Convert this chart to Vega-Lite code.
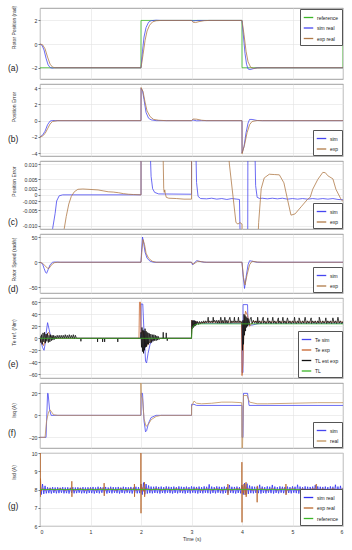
{
"$schema": "https://vega.github.io/schema/vega-lite/v6.json",
"padding": {"left": 7, "top": 4, "right": 8, "bottom": 4},
"background": "white",
"spacing": 5,
"bounds": "flush",
"resolve": {"scale": {"color": "independent", "x": "independent", "y": "independent"}, "legend": {"color": "independent"}},
"config": {
 "font": "Liberation Sans",
 "view": {"stroke": "#888", "strokeWidth": 0.8},
 "axis": {"labelFontSize": 5.2, "titleFontSize": 5, "titleFontWeight": "normal", "labelColor": "#333", "titleColor": "#333", "gridColor": "#e3e3e3", "gridWidth": 0.6, "domain": false, "tickColor": "#777", "tickSize": 2, "labelPadding": 1},
 "legend": {"labelFontSize": 5, "labelColor": "#222", "symbolType": "stroke", "symbolSize": 90, "symbolStrokeWidth": 1.3, "strokeColor": "#555", "fillColor": "#fff", "padding": 3, "rowPadding": 1.5, "offset": 1, "labelOffset": 3},
 "title": {"fontSize": 8.5, "fontWeight": "normal", "color": "#222", "anchor": "start", "frame": "group", "offset": 0, "dx": -32, "baseline": "middle"}
},
"datasets": {
"a": [
{"s":"reference","t":0,"v":-2},{"s":"reference","t":1.999,"v":-2},{"s":"reference","t":2,"v":2},{"s":"reference","t":3.999,"v":2},{"s":"reference","t":4,"v":-2},{"s":"reference","t":5.999,"v":-2},{"s":"reference","t":6,"v":2},
{"s":"sim real","t":0,"v":0},{"s":"sim real","t":0.04,"v":-0.1},{"s":"sim real","t":0.08,"v":-0.5},{"s":"sim real","t":0.12,"v":-1.2},{"s":"sim real","t":0.16,"v":-1.75},{"s":"sim real","t":0.2,"v":-1.98},{"s":"sim real","t":0.24,"v":-2.03},{"s":"sim real","t":0.3,"v":-2},{"s":"sim real","t":2,"v":-2},{"s":"sim real","t":2.03,"v":-0.6},{"s":"sim real","t":2.06,"v":0.6},{"s":"sim real","t":2.1,"v":1.4},{"s":"sim real","t":2.15,"v":1.85},{"s":"sim real","t":2.2,"v":1.98},{"s":"sim real","t":2.3,"v":2.02},{"s":"sim real","t":2.4,"v":2},{"s":"sim real","t":3,"v":2},{"s":"sim real","t":3.04,"v":1.96},{"s":"sim real","t":3.12,"v":2},{"s":"sim real","t":4,"v":2},{"s":"sim real","t":4.03,"v":0.6},{"s":"sim real","t":4.06,"v":-0.8},{"s":"sim real","t":4.09,"v":-1.7},{"s":"sim real","t":4.12,"v":-2.1},{"s":"sim real","t":4.16,"v":-2.15},{"s":"sim real","t":4.22,"v":-2.08},{"s":"sim real","t":4.3,"v":-2},{"s":"sim real","t":6,"v":-2},
{"s":"exp real","t":0,"v":0},{"s":"exp real","t":0.05,"v":-0.05},{"s":"exp real","t":0.1,"v":-0.4},{"s":"exp real","t":0.15,"v":-1.1},{"s":"exp real","t":0.2,"v":-1.7},{"s":"exp real","t":0.25,"v":-1.95},{"s":"exp real","t":0.3,"v":-2},{"s":"exp real","t":2,"v":-2},{"s":"exp real","t":2.04,"v":-0.9},{"s":"exp real","t":2.08,"v":0.3},{"s":"exp real","t":2.12,"v":1.1},{"s":"exp real","t":2.17,"v":1.6},{"s":"exp real","t":2.23,"v":1.88},{"s":"exp real","t":2.3,"v":1.97},{"s":"exp real","t":2.4,"v":2},{"s":"exp real","t":3,"v":2},{"s":"exp real","t":3.03,"v":1.85},{"s":"exp real","t":3.08,"v":1.82},{"s":"exp real","t":3.15,"v":1.9},{"s":"exp real","t":3.25,"v":1.98},{"s":"exp real","t":3.35,"v":2},{"s":"exp real","t":4,"v":2},{"s":"exp real","t":4.04,"v":0.8},{"s":"exp real","t":4.08,"v":-0.6},{"s":"exp real","t":4.12,"v":-1.5},{"s":"exp real","t":4.17,"v":-1.95},{"s":"exp real","t":4.23,"v":-2.05},{"s":"exp real","t":4.3,"v":-2.02},{"s":"exp real","t":4.4,"v":-2},{"s":"exp real","t":6,"v":-2}
],
"b": [
{"s":"sim","t":0,"v":-2},{"s":"sim","t":0.05,"v":-1.8},{"s":"sim","t":0.1,"v":-1.3},{"s":"sim","t":0.15,"v":-0.5},{"s":"sim","t":0.2,"v":-0.05},{"s":"sim","t":0.25,"v":0.02},{"s":"sim","t":0.3,"v":0},{"s":"sim","t":2,"v":0},{"s":"sim","t":2.001,"v":4},{"s":"sim","t":2.03,"v":3.7},{"s":"sim","t":2.06,"v":2.6},{"s":"sim","t":2.1,"v":1},{"s":"sim","t":2.15,"v":0.3},{"s":"sim","t":2.2,"v":0.1},{"s":"sim","t":2.3,"v":0},{"s":"sim","t":3,"v":0},{"s":"sim","t":3.03,"v":0.08},{"s":"sim","t":3.1,"v":-0.02},{"s":"sim","t":3.2,"v":0},{"s":"sim","t":4,"v":0},{"s":"sim","t":4.001,"v":-4},{"s":"sim","t":4.04,"v":-3.2},{"s":"sim","t":4.08,"v":-1.5},{"s":"sim","t":4.12,"v":-0.3},{"s":"sim","t":4.15,"v":0.15},{"s":"sim","t":4.2,"v":0.15},{"s":"sim","t":4.3,"v":0.02},{"s":"sim","t":4.4,"v":0},{"s":"sim","t":6,"v":0},
{"s":"exp","t":0,"v":-2},{"s":"exp","t":0.05,"v":-1.9},{"s":"exp","t":0.1,"v":-1.6},{"s":"exp","t":0.15,"v":-1},{"s":"exp","t":0.2,"v":-0.4},{"s":"exp","t":0.25,"v":-0.1},{"s":"exp","t":0.35,"v":0},{"s":"exp","t":2,"v":0},{"s":"exp","t":2.001,"v":4.1},{"s":"exp","t":2.04,"v":3.6},{"s":"exp","t":2.08,"v":2.3},{"s":"exp","t":2.12,"v":1.2},{"s":"exp","t":2.18,"v":0.5},{"s":"exp","t":2.25,"v":0.15},{"s":"exp","t":2.35,"v":0.05},{"s":"exp","t":2.5,"v":0},{"s":"exp","t":3,"v":0},{"s":"exp","t":3.03,"v":0.2},{"s":"exp","t":3.1,"v":0.18},{"s":"exp","t":3.2,"v":0.05},{"s":"exp","t":3.3,"v":0},{"s":"exp","t":4,"v":0},{"s":"exp","t":4.001,"v":-4.1},{"s":"exp","t":4.05,"v":-3},{"s":"exp","t":4.1,"v":-1.5},{"s":"exp","t":4.15,"v":-0.5},{"s":"exp","t":4.2,"v":-0.1},{"s":"exp","t":4.3,"v":0.02},{"s":"exp","t":4.4,"v":0},{"s":"exp","t":6,"v":0}
],
"c": [
{"s":"sim","t":0,"v":-0.1},{"s":"sim","t":0.2,"v":-0.05},{"s":"sim","t":0.25,"v":-0.011},{"s":"sim","t":0.3,"v":-0.006},{"s":"sim","t":0.33,"v":-0.002},{"s":"sim","t":0.38,"v":-0.0003},{"s":"sim","t":0.45,"v":0},{"s":"sim","t":2,"v":0},{"s":"sim","t":2.001,"v":0.1},{"s":"sim","t":2.17,"v":0.02},{"s":"sim","t":2.2,"v":0.006},{"s":"sim","t":2.23,"v":0.002},{"s":"sim","t":2.27,"v":0.0008},{"s":"sim","t":2.35,"v":0.0003},{"s":"sim","t":3,"v":0.0002},{"s":"sim","t":3.001,"v":0.05},{"s":"sim","t":3.08,"v":0.02},{"s":"sim","t":3.1,"v":0.004},{"s":"sim","t":3.13,"v":-0.0005},{"s":"sim","t":3.18,"v":-0.0012},{"s":"sim","t":3.3,"v":-0.0013},{"s":"sim","t":3.4,"v":-0.0011},{"s":"sim","t":3.5,"v":-0.0014},{"s":"sim","t":3.6,"v":-0.0012},{"s":"sim","t":3.7,"v":-0.0015},{"s":"sim","t":3.8,"v":-0.0012},{"s":"sim","t":3.9,"v":-0.0014},{"s":"sim","t":3.95,"v":-0.0015},{"s":"sim","t":3.97,"v":-0.02},{"s":"sim","t":4,"v":-0.1},{"s":"sim","t":4.11,"v":-0.05},{"s":"sim","t":4.12,"v":0.05},{"s":"sim","t":4.25,"v":0.02},{"s":"sim","t":4.27,"v":0.003},{"s":"sim","t":4.3,"v":-0.0008},{"s":"sim","t":4.35,"v":-0.0012},{"s":"sim","t":4.4,"v":-0.0011},{"s":"sim","t":4.5,"v":-0.0013},{"s":"sim","t":4.6,"v":-0.0011},{"s":"sim","t":4.7,"v":-0.0013},{"s":"sim","t":4.8,"v":-0.0011},{"s":"sim","t":4.9,"v":-0.0014},{"s":"sim","t":5,"v":-0.0012},{"s":"sim","t":5.1,"v":-0.0014},{"s":"sim","t":5.2,"v":-0.0012},{"s":"sim","t":5.3,"v":-0.0014},{"s":"sim","t":5.4,"v":-0.0012},{"s":"sim","t":5.5,"v":-0.0014},{"s":"sim","t":5.6,"v":-0.0012},{"s":"sim","t":5.7,"v":-0.0014},{"s":"sim","t":5.8,"v":-0.0012},{"s":"sim","t":5.9,"v":-0.0015},{"s":"sim","t":6,"v":-0.0016},
{"s":"exp","t":0,"v":-0.5},{"s":"exp","t":0.45,"v":-0.02},{"s":"exp","t":0.48,"v":-0.011},{"s":"exp","t":0.52,"v":-0.007},{"s":"exp","t":0.57,"v":-0.003},{"s":"exp","t":0.62,"v":-0.0005},{"s":"exp","t":0.68,"v":0.001},{"s":"exp","t":0.75,"v":0.0018},{"s":"exp","t":0.85,"v":0.0019},{"s":"exp","t":0.95,"v":0.0018},{"s":"exp","t":1.05,"v":0.0017},{"s":"exp","t":1.15,"v":0.0016},{"s":"exp","t":1.25,"v":0.0013},{"s":"exp","t":1.35,"v":0.001},{"s":"exp","t":1.45,"v":0.0009},{"s":"exp","t":1.55,"v":0.0007},{"s":"exp","t":1.65,"v":0.0004},{"s":"exp","t":1.75,"v":0.0002},{"s":"exp","t":1.85,"v":0.0001},{"s":"exp","t":2,"v":0},{"s":"exp","t":2.001,"v":0.2},{"s":"exp","t":2.43,"v":0.02},{"s":"exp","t":2.45,"v":0.002},{"s":"exp","t":2.46,"v":0.0008},{"s":"exp","t":2.47,"v":0.0016},{"s":"exp","t":2.48,"v":0.0005},{"s":"exp","t":2.5,"v":-0.0008},{"s":"exp","t":2.55,"v":-0.0011},{"s":"exp","t":2.7,"v":-0.0012},{"s":"exp","t":2.85,"v":-0.0014},{"s":"exp","t":3,"v":-0.0014},{"s":"exp","t":3.001,"v":0.1},{"s":"exp","t":3.7,"v":0.02},{"s":"exp","t":3.75,"v":0.01},{"s":"exp","t":3.88,"v":-0.009},{"s":"exp","t":3.92,"v":-0.0095},{"s":"exp","t":3.96,"v":-0.009},{"s":"exp","t":4,"v":-0.0095},{"s":"exp","t":4.01,"v":-0.2},{"s":"exp","t":4.3,"v":-0.02},{"s":"exp","t":4.33,"v":-0.009},{"s":"exp","t":4.38,"v":0.002},{"s":"exp","t":4.44,"v":0.0055},{"s":"exp","t":4.54,"v":0.0067},{"s":"exp","t":4.64,"v":0.0066},{"s":"exp","t":4.74,"v":0.0065},{"s":"exp","t":4.83,"v":0.0039},{"s":"exp","t":4.9,"v":-0.0014},{"s":"exp","t":4.97,"v":-0.0066},{"s":"exp","t":5.05,"v":-0.0062},{"s":"exp","t":5.17,"v":-0.0039},{"s":"exp","t":5.3,"v":-0.0014},{"s":"exp","t":5.35,"v":-0.0008},{"s":"exp","t":5.4,"v":0.0018},{"s":"exp","t":5.5,"v":0.005},{"s":"exp","t":5.6,"v":0.0073},{"s":"exp","t":5.65,"v":0.0072},{"s":"exp","t":5.7,"v":0.0062},{"s":"exp","t":5.8,"v":0.0052},{"s":"exp","t":5.86,"v":0.0018},{"s":"exp","t":5.96,"v":-0.0014},{"s":"exp","t":6,"v":-0.0022}
],
"d": [
{"s":"sim","t":0,"v":0},{"s":"sim","t":0.05,"v":-3},{"s":"sim","t":0.08,"v":-12},{"s":"sim","t":0.11,"v":-20},{"s":"sim","t":0.13,"v":-22},{"s":"sim","t":0.16,"v":-15},{"s":"sim","t":0.2,"v":-5},{"s":"sim","t":0.25,"v":0},{"s":"sim","t":0.3,"v":0.5},{"s":"sim","t":0.4,"v":0},{"s":"sim","t":2,"v":0},{"s":"sim","t":2.01,"v":20},{"s":"sim","t":2.03,"v":50},{"s":"sim","t":2.05,"v":40},{"s":"sim","t":2.08,"v":20},{"s":"sim","t":2.12,"v":8},{"s":"sim","t":2.18,"v":2},{"s":"sim","t":2.25,"v":0},{"s":"sim","t":3,"v":0},{"s":"sim","t":3.02,"v":-5},{"s":"sim","t":3.05,"v":-2},{"s":"sim","t":3.1,"v":3},{"s":"sim","t":3.15,"v":2},{"s":"sim","t":3.25,"v":0},{"s":"sim","t":4,"v":0},{"s":"sim","t":4.02,"v":-25},{"s":"sim","t":4.05,"v":-52},{"s":"sim","t":4.08,"v":-30},{"s":"sim","t":4.12,"v":-5},{"s":"sim","t":4.15,"v":3},{"s":"sim","t":4.2,"v":2},{"s":"sim","t":4.3,"v":0},{"s":"sim","t":6,"v":0},
{"s":"exp","t":0,"v":0},{"s":"exp","t":0.05,"v":-2},{"s":"exp","t":0.1,"v":-7},{"s":"exp","t":0.15,"v":-12},{"s":"exp","t":0.18,"v":-12},{"s":"exp","t":0.22,"v":-6},{"s":"exp","t":0.28,"v":-1},{"s":"exp","t":0.35,"v":0},{"s":"exp","t":2,"v":0},{"s":"exp","t":2.02,"v":25},{"s":"exp","t":2.04,"v":45},{"s":"exp","t":2.07,"v":35},{"s":"exp","t":2.1,"v":18},{"s":"exp","t":2.15,"v":8},{"s":"exp","t":2.22,"v":2},{"s":"exp","t":2.3,"v":0},{"s":"exp","t":3,"v":0},{"s":"exp","t":3.03,"v":-4},{"s":"exp","t":3.08,"v":-1},{"s":"exp","t":3.12,"v":2},{"s":"exp","t":3.2,"v":1},{"s":"exp","t":3.3,"v":0},{"s":"exp","t":4,"v":0},{"s":"exp","t":4.03,"v":-30},{"s":"exp","t":4.06,"v":-45},{"s":"exp","t":4.1,"v":-25},{"s":"exp","t":4.15,"v":-5},{"s":"exp","t":4.2,"v":2},{"s":"exp","t":4.3,"v":0.5},{"s":"exp","t":4.4,"v":0},{"s":"exp","t":6,"v":0}
],
"e": [
{"s":"Te sim","t":0,"v":0},{"s":"Te sim","t":0.02,"v":-5},{"s":"Te sim","t":0.05,"v":-15},{"s":"Te sim","t":0.08,"v":-20},{"s":"Te sim","t":0.1,"v":-10},{"s":"Te sim","t":0.12,"v":8},{"s":"Te sim","t":0.15,"v":26},{"s":"Te sim","t":0.18,"v":15},{"s":"Te sim","t":0.21,"v":3},{"s":"Te sim","t":0.25,"v":0},{"s":"Te sim","t":2,"v":0},{"s":"Te sim","t":2.001,"v":57},{"s":"Te sim","t":2.035,"v":57},{"s":"Te sim","t":2.06,"v":10},{"s":"Te sim","t":2.09,"v":-38},{"s":"Te sim","t":2.11,"v":-41},{"s":"Te sim","t":2.14,"v":-25},{"s":"Te sim","t":2.18,"v":-10},{"s":"Te sim","t":2.24,"v":-2},{"s":"Te sim","t":2.3,"v":0},{"s":"Te sim","t":3,"v":0},{"s":"Te sim","t":3.001,"v":27},{"s":"Te sim","t":3.03,"v":29},{"s":"Te sim","t":3.08,"v":27},{"s":"Te sim","t":3.15,"v":25},{"s":"Te sim","t":3.999,"v":25},{"s":"Te sim","t":4,"v":-57},{"s":"Te sim","t":4.02,"v":-57},{"s":"Te sim","t":4.021,"v":56},{"s":"Te sim","t":4.11,"v":56},{"s":"Te sim","t":4.12,"v":22},{"s":"Te sim","t":4.2,"v":22},{"s":"Te sim","t":4.3,"v":24},{"s":"Te sim","t":4.4,"v":25},{"s":"Te sim","t":6,"v":25},
{"s":"Te exp","t":0,"v":0},{"s":"Te exp","t":0.03,"v":-6},{"s":"Te exp","t":0.07,"v":-12},{"s":"Te exp","t":0.1,"v":-4},{"s":"Te exp","t":0.13,"v":6},{"s":"Te exp","t":0.17,"v":10},{"s":"Te exp","t":0.21,"v":3},{"s":"Te exp","t":0.28,"v":0},{"s":"Te exp","t":1.96,"v":0},{"s":"Te exp","t":1.97,"v":60},{"s":"Te exp","t":1.99,"v":60},{"s":"Te exp","t":2,"v":8},{"s":"Te exp","t":2.04,"v":12},{"s":"Te exp","t":2.08,"v":-8},{"s":"Te exp","t":2.12,"v":-12},{"s":"Te exp","t":2.18,"v":-5},{"s":"Te exp","t":2.28,"v":0},{"s":"Te exp","t":3,"v":0},{"s":"Te exp","t":3.005,"v":30},{"s":"Te exp","t":3.04,"v":21},{"s":"Te exp","t":3.08,"v":28},{"s":"Te exp","t":3.15,"v":25},{"s":"Te exp","t":3.3,"v":27},{"s":"Te exp","t":3.99,"v":27},{"s":"Te exp","t":4,"v":-62},{"s":"Te exp","t":4.02,"v":-40},{"s":"Te exp","t":4.04,"v":25},{"s":"Te exp","t":4.07,"v":45},{"s":"Te exp","t":4.11,"v":38},{"s":"Te exp","t":4.15,"v":20},{"s":"Te exp","t":4.22,"v":28},{"s":"Te exp","t":4.4,"v":27},{"s":"Te exp","t":6,"v":27},
{"s":"TL est exp","t":0,"v":4},{"s":"TL est exp","t":0.015,"v":-7},{"s":"TL est exp","t":0.03,"v":6},{"s":"TL est exp","t":0.045,"v":-10},{"s":"TL est exp","t":0.06,"v":9},{"s":"TL est exp","t":0.075,"v":-6},{"s":"TL est exp","t":0.09,"v":10},{"s":"TL est exp","t":0.105,"v":-8},{"s":"TL est exp","t":0.12,"v":7},{"s":"TL est exp","t":0.135,"v":-5},{"s":"TL est exp","t":0.15,"v":8},{"s":"TL est exp","t":0.165,"v":-7},{"s":"TL est exp","t":0.18,"v":5},{"s":"TL est exp","t":0.195,"v":-6},{"s":"TL est exp","t":0.21,"v":6},{"s":"TL est exp","t":0.225,"v":-4},{"s":"TL est exp","t":0.24,"v":5},{"s":"TL est exp","t":0.255,"v":-3},{"s":"TL est exp","t":0.27,"v":5},{"s":"TL est exp","t":0.285,"v":-2},{"s":"TL est exp","t":0.3,"v":4},{"s":"TL est exp","t":0.32,"v":-1},{"s":"TL est exp","t":0.34,"v":5},{"s":"TL est exp","t":0.36,"v":0},{"s":"TL est exp","t":0.38,"v":5},{"s":"TL est exp","t":0.4,"v":0},{"s":"TL est exp","t":0.42,"v":5},{"s":"TL est exp","t":0.44,"v":0},{"s":"TL est exp","t":0.46,"v":5},{"s":"TL est exp","t":0.48,"v":0},{"s":"TL est exp","t":0.5,"v":6},{"s":"TL est exp","t":0.52,"v":0},{"s":"TL est exp","t":0.54,"v":5},{"s":"TL est exp","t":0.56,"v":0},{"s":"TL est exp","t":0.58,"v":6},{"s":"TL est exp","t":0.6,"v":0},{"s":"TL est exp","t":0.62,"v":5},{"s":"TL est exp","t":0.64,"v":0},{"s":"TL est exp","t":0.66,"v":6},{"s":"TL est exp","t":0.68,"v":-1},{"s":"TL est exp","t":0.7,"v":5},{"s":"TL est exp","t":0.72,"v":0},{"s":"TL est exp","t":0.808,"v":0},{"s":"TL est exp","t":0.81,"v":-5},{"s":"TL est exp","t":0.812,"v":0},{"s":"TL est exp","t":1.138,"v":0},{"s":"TL est exp","t":1.14,"v":-6},{"s":"TL est exp","t":1.142,"v":0},{"s":"TL est exp","t":1.238,"v":0},{"s":"TL est exp","t":1.24,"v":-6},{"s":"TL est exp","t":1.242,"v":0},{"s":"TL est exp","t":1.278,"v":0},{"s":"TL est exp","t":1.28,"v":-6},{"s":"TL est exp","t":1.282,"v":0},{"s":"TL est exp","t":1.538,"v":0},{"s":"TL est exp","t":1.54,"v":-6},{"s":"TL est exp","t":1.542,"v":0},{"s":"TL est exp","t":1.99,"v":0},{"s":"TL est exp","t":2,"v":10},{"s":"TL est exp","t":2.01,"v":-15},{"s":"TL est exp","t":2.02,"v":18},{"s":"TL est exp","t":2.03,"v":-22},{"s":"TL est exp","t":2.04,"v":14},{"s":"TL est exp","t":2.05,"v":-25},{"s":"TL est exp","t":2.06,"v":12},{"s":"TL est exp","t":2.07,"v":-20},{"s":"TL est exp","t":2.08,"v":16},{"s":"TL est exp","t":2.09,"v":-15},{"s":"TL est exp","t":2.1,"v":12},{"s":"TL est exp","t":2.11,"v":-14},{"s":"TL est exp","t":2.12,"v":10},{"s":"TL est exp","t":2.13,"v":-10},{"s":"TL est exp","t":2.14,"v":9},{"s":"TL est exp","t":2.15,"v":-10},{"s":"TL est exp","t":2.165,"v":8},{"s":"TL est exp","t":2.18,"v":-8},{"s":"TL est exp","t":2.195,"v":7},{"s":"TL est exp","t":2.21,"v":-7},{"s":"TL est exp","t":2.225,"v":6},{"s":"TL est exp","t":2.24,"v":-5},{"s":"TL est exp","t":2.255,"v":6},{"s":"TL est exp","t":2.27,"v":-4},{"s":"TL est exp","t":2.285,"v":5},{"s":"TL est exp","t":2.3,"v":-4},{"s":"TL est exp","t":2.315,"v":4},{"s":"TL est exp","t":2.33,"v":-3},{"s":"TL est exp","t":2.345,"v":3},{"s":"TL est exp","t":2.36,"v":-2},{"s":"TL est exp","t":2.38,"v":0},{"s":"TL est exp","t":2.438,"v":0},{"s":"TL est exp","t":2.44,"v":10},{"s":"TL est exp","t":2.442,"v":0},{"s":"TL est exp","t":2.498,"v":0},{"s":"TL est exp","t":2.5,"v":9},{"s":"TL est exp","t":2.502,"v":0},{"s":"TL est exp","t":2.518,"v":0},{"s":"TL est exp","t":2.52,"v":-4},{"s":"TL est exp","t":2.522,"v":0},{"s":"TL est exp","t":2.998,"v":0},
{"s":"TL est exp","t":3.01,"v":30},{"s":"TL est exp","t":3.02,"v":16},{"s":"TL est exp","t":3.03,"v":29},{"s":"TL est exp","t":3.04,"v":18},{"s":"TL est exp","t":3.05,"v":30},{"s":"TL est exp","t":3.06,"v":20},{"s":"TL est exp","t":3.07,"v":29},{"s":"TL est exp","t":3.08,"v":21},{"s":"TL est exp","t":3.09,"v":28},{"s":"TL est exp","t":3.1,"v":22},{"s":"TL est exp","t":3.12,"v":28},{"s":"TL est exp","t":3.14,"v":23},{"s":"TL est exp","t":3.16,"v":28},{"s":"TL est exp","t":3.18,"v":24},{"s":"TL est exp","t":3.2,"v":28},{"s":"TL est exp","t":3.22,"v":25},{"s":"TL est exp","t":3.24,"v":29},{"s":"TL est exp","t":3.26,"v":25},{"s":"TL est exp","t":3.28,"v":29},{"s":"TL est exp","t":3.3,"v":26},{"s":"TL est exp","t":3.32,"v":29},{"s":"TL est exp","t":3.33,"v":35},{"s":"TL est exp","t":3.34,"v":26},{"s":"TL est exp","t":3.36,"v":29},{"s":"TL est exp","t":3.38,"v":26},{"s":"TL est exp","t":3.4,"v":29},{"s":"TL est exp","t":3.42,"v":26},{"s":"TL est exp","t":3.43,"v":35},{"s":"TL est exp","t":3.44,"v":27},{"s":"TL est exp","t":3.46,"v":30},{"s":"TL est exp","t":3.48,"v":26},{"s":"TL est exp","t":3.5,"v":30},{"s":"TL est exp","t":3.52,"v":25},{"s":"TL est exp","t":3.54,"v":30},{"s":"TL est exp","t":3.56,"v":25},{"s":"TL est exp","t":3.58,"v":35},{"s":"TL est exp","t":3.6,"v":25},{"s":"TL est exp","t":3.62,"v":30},{"s":"TL est exp","t":3.64,"v":25},{"s":"TL est exp","t":3.66,"v":35},{"s":"TL est exp","t":3.68,"v":25},{"s":"TL est exp","t":3.7,"v":30},{"s":"TL est exp","t":3.72,"v":25},{"s":"TL est exp","t":3.74,"v":30},{"s":"TL est exp","t":3.76,"v":35},{"s":"TL est exp","t":3.78,"v":25},{"s":"TL est exp","t":3.8,"v":29},{"s":"TL est exp","t":3.82,"v":26},{"s":"TL est exp","t":3.84,"v":29},{"s":"TL est exp","t":3.85,"v":35},{"s":"TL est exp","t":3.86,"v":26},{"s":"TL est exp","t":3.88,"v":29},{"s":"TL est exp","t":3.9,"v":26},{"s":"TL est exp","t":3.92,"v":29},{"s":"TL est exp","t":3.93,"v":35},{"s":"TL est exp","t":3.94,"v":26},{"s":"TL est exp","t":3.96,"v":29},{"s":"TL est exp","t":3.98,"v":26},
{"s":"TL est exp","t":4,"v":28},{"s":"TL est exp","t":4.01,"v":-20},{"s":"TL est exp","t":4.02,"v":30},{"s":"TL est exp","t":4.03,"v":-10},{"s":"TL est exp","t":4.04,"v":40},{"s":"TL est exp","t":4.05,"v":5},{"s":"TL est exp","t":4.06,"v":38},{"s":"TL est exp","t":4.07,"v":12},{"s":"TL est exp","t":4.08,"v":36},{"s":"TL est exp","t":4.09,"v":18},{"s":"TL est exp","t":4.1,"v":34},{"s":"TL est exp","t":4.11,"v":20},{"s":"TL est exp","t":4.12,"v":33},{"s":"TL est exp","t":4.14,"v":22},{"s":"TL est exp","t":4.16,"v":32},{"s":"TL est exp","t":4.18,"v":35},{"s":"TL est exp","t":4.2,"v":24},{"s":"TL est exp","t":4.225,"v":30},{"s":"TL est exp","t":4.25,"v":25},{"s":"TL est exp","t":4.275,"v":29},{"s":"TL est exp","t":4.3,"v":24},{"s":"TL est exp","t":4.31,"v":35},{"s":"TL est exp","t":4.325,"v":25},{"s":"TL est exp","t":4.35,"v":29},{"s":"TL est exp","t":4.375,"v":24},{"s":"TL est exp","t":4.4,"v":30},{"s":"TL est exp","t":4.42,"v":35},{"s":"TL est exp","t":4.425,"v":25},{"s":"TL est exp","t":4.45,"v":29},{"s":"TL est exp","t":4.475,"v":24},{"s":"TL est exp","t":4.5,"v":29},{"s":"TL est exp","t":4.51,"v":34},{"s":"TL est exp","t":4.525,"v":25},{"s":"TL est exp","t":4.55,"v":29},{"s":"TL est exp","t":4.575,"v":24},{"s":"TL est exp","t":4.6,"v":30},{"s":"TL est exp","t":4.61,"v":35},{"s":"TL est exp","t":4.625,"v":25},{"s":"TL est exp","t":4.65,"v":29},{"s":"TL est exp","t":4.675,"v":24},{"s":"TL est exp","t":4.7,"v":29},{"s":"TL est exp","t":4.72,"v":34},{"s":"TL est exp","t":4.725,"v":25},{"s":"TL est exp","t":4.75,"v":29},{"s":"TL est exp","t":4.775,"v":24},{"s":"TL est exp","t":4.8,"v":30},{"s":"TL est exp","t":4.81,"v":35},{"s":"TL est exp","t":4.825,"v":25},{"s":"TL est exp","t":4.85,"v":29},{"s":"TL est exp","t":4.875,"v":24},{"s":"TL est exp","t":4.9,"v":34},{"s":"TL est exp","t":4.925,"v":25},{"s":"TL est exp","t":4.95,"v":29},{"s":"TL est exp","t":4.975,"v":24},{"s":"TL est exp","t":5,"v":29},{"s":"TL est exp","t":5.025,"v":25},{"s":"TL est exp","t":5.04,"v":35},{"s":"TL est exp","t":5.05,"v":29},{"s":"TL est exp","t":5.075,"v":24},{"s":"TL est exp","t":5.1,"v":29},{"s":"TL est exp","t":5.125,"v":25},{"s":"TL est exp","t":5.13,"v":34},{"s":"TL est exp","t":5.15,"v":29},{"s":"TL est exp","t":5.175,"v":24},{"s":"TL est exp","t":5.2,"v":29},{"s":"TL est exp","t":5.225,"v":25},{"s":"TL est exp","t":5.25,"v":35},{"s":"TL est exp","t":5.275,"v":24},{"s":"TL est exp","t":5.3,"v":29},{"s":"TL est exp","t":5.325,"v":25},{"s":"TL est exp","t":5.35,"v":29},{"s":"TL est exp","t":5.37,"v":34},{"s":"TL est exp","t":5.375,"v":24},{"s":"TL est exp","t":5.4,"v":29},{"s":"TL est exp","t":5.425,"v":25},{"s":"TL est exp","t":5.45,"v":29},{"s":"TL est exp","t":5.475,"v":24},{"s":"TL est exp","t":5.5,"v":29},{"s":"TL est exp","t":5.525,"v":25},{"s":"TL est exp","t":5.53,"v":35},{"s":"TL est exp","t":5.55,"v":29},{"s":"TL est exp","t":5.575,"v":24},{"s":"TL est exp","t":5.6,"v":29},{"s":"TL est exp","t":5.625,"v":25},{"s":"TL est exp","t":5.65,"v":29},{"s":"TL est exp","t":5.66,"v":34},{"s":"TL est exp","t":5.675,"v":24},{"s":"TL est exp","t":5.7,"v":29},{"s":"TL est exp","t":5.725,"v":25},{"s":"TL est exp","t":5.75,"v":29},{"s":"TL est exp","t":5.775,"v":24},{"s":"TL est exp","t":5.8,"v":34},{"s":"TL est exp","t":5.825,"v":25},{"s":"TL est exp","t":5.85,"v":29},{"s":"TL est exp","t":5.875,"v":24},{"s":"TL est exp","t":5.9,"v":35},{"s":"TL est exp","t":5.925,"v":25},{"s":"TL est exp","t":5.95,"v":29},{"s":"TL est exp","t":5.975,"v":24},{"s":"TL est exp","t":6,"v":28},
{"s":"TL","t":0,"v":0},{"s":"TL","t":3,"v":0},{"s":"TL","t":3.01,"v":15},{"s":"TL","t":3.03,"v":20},{"s":"TL","t":3.06,"v":22},{"s":"TL","t":3.12,"v":23.5},{"s":"TL","t":3.2,"v":24},{"s":"TL","t":6,"v":24}
],
"f": [
{"s":"sim","t":0,"v":-20},{"s":"sim","t":0.12,"v":-20},{"s":"sim","t":0.15,"v":20},{"s":"sim","t":0.16,"v":20},{"s":"sim","t":0.19,"v":5},{"s":"sim","t":0.22,"v":0},{"s":"sim","t":2,"v":0},{"s":"sim","t":2.001,"v":20},{"s":"sim","t":2.03,"v":20},{"s":"sim","t":2.06,"v":-5},{"s":"sim","t":2.09,"v":-15},{"s":"sim","t":2.11,"v":-14},{"s":"sim","t":2.15,"v":-7},{"s":"sim","t":2.2,"v":-2},{"s":"sim","t":2.3,"v":0},{"s":"sim","t":3,"v":0},{"s":"sim","t":3.001,"v":10},{"s":"sim","t":3.05,"v":10},{"s":"sim","t":3.1,"v":9},{"s":"sim","t":4,"v":9},{"s":"sim","t":4.001,"v":-20},{"s":"sim","t":4.02,"v":-20},{"s":"sim","t":4.03,"v":20},{"s":"sim","t":4.11,"v":20},{"s":"sim","t":4.14,"v":9},{"s":"sim","t":6,"v":9},
{"s":"real","t":0,"v":-20},{"s":"real","t":0.1,"v":-20},{"s":"real","t":0.13,"v":-5},{"s":"real","t":0.17,"v":3},{"s":"real","t":0.2,"v":5},{"s":"real","t":0.23,"v":3},{"s":"real","t":0.27,"v":0.5},{"s":"real","t":0.35,"v":0},{"s":"real","t":1.995,"v":0},{"s":"real","t":1.998,"v":30},{"s":"real","t":2.005,"v":18},{"s":"real","t":2.03,"v":15},{"s":"real","t":2.06,"v":-3},{"s":"real","t":2.1,"v":-10},{"s":"real","t":2.15,"v":-8},{"s":"real","t":2.2,"v":-4},{"s":"real","t":2.3,"v":-1},{"s":"real","t":2.4,"v":0},{"s":"real","t":3,"v":0},{"s":"real","t":3.001,"v":8},{"s":"real","t":3.05,"v":13},{"s":"real","t":3.1,"v":11},{"s":"real","t":3.2,"v":10.5},{"s":"real","t":3.4,"v":11},{"s":"real","t":3.6,"v":12},{"s":"real","t":3.8,"v":12},{"s":"real","t":3.995,"v":11.5},{"s":"real","t":3.998,"v":-30},{"s":"real","t":4.01,"v":-30},{"s":"real","t":4.03,"v":18},{"s":"real","t":4.1,"v":18},{"s":"real","t":4.15,"v":12},{"s":"real","t":4.3,"v":10.5},{"s":"real","t":4.5,"v":10.5},{"s":"real","t":5,"v":11},{"s":"real","t":5.5,"v":11.5},{"s":"real","t":6,"v":11.5}
],
"g": [
{"s":"sim real","t":0,"v":8.45},{"s":"sim real","t":0.025,"v":7.72},{"s":"sim real","t":0.05,"v":8.3},{"s":"sim real","t":0.075,"v":7.76},{"s":"sim real","t":0.1,"v":8.2},{"s":"sim real","t":0.125,"v":7.79},{"s":"sim real","t":0.15,"v":8.12},{"s":"sim real","t":0.175,"v":7.8},{"s":"sim real","t":0.2,"v":8.1},{"s":"sim real","t":0.225,"v":7.78},{"s":"sim real","t":0.25,"v":8.13},{"s":"sim real","t":0.275,"v":7.81},{"s":"sim real","t":0.3,"v":8.11},{"s":"sim real","t":0.325,"v":7.79},{"s":"sim real","t":0.35,"v":8.12},{"s":"sim real","t":0.375,"v":7.8},{"s":"sim real","t":0.4,"v":8.1},{"s":"sim real","t":0.425,"v":7.82},{"s":"sim real","t":0.45,"v":8.13},{"s":"sim real","t":0.475,"v":7.79},{"s":"sim real","t":0.5,"v":8.11},{"s":"sim real","t":0.525,"v":7.8},{"s":"sim real","t":0.55,"v":8.12},{"s":"sim real","t":0.575,"v":7.78},{"s":"sim real","t":0.6,"v":8.1},{"s":"sim real","t":0.625,"v":7.81},{"s":"sim real","t":0.65,"v":8.13},{"s":"sim real","t":0.675,"v":7.79},{"s":"sim real","t":0.7,"v":8.11},{"s":"sim real","t":0.725,"v":7.8},{"s":"sim real","t":0.75,"v":8.12},{"s":"sim real","t":0.775,"v":7.82},{"s":"sim real","t":0.8,"v":8.1},{"s":"sim real","t":0.825,"v":7.79},{"s":"sim real","t":0.85,"v":8.13},{"s":"sim real","t":0.875,"v":7.8},{"s":"sim real","t":0.9,"v":8.11},{"s":"sim real","t":0.925,"v":7.78},{"s":"sim real","t":0.95,"v":8.12},{"s":"sim real","t":0.975,"v":7.81},
{"s":"sim real","t":1,"v":8.12},{"s":"sim real","t":1.025,"v":7.8},{"s":"sim real","t":1.05,"v":8.14},{"s":"sim real","t":1.075,"v":7.78},{"s":"sim real","t":1.1,"v":8.11},{"s":"sim real","t":1.125,"v":7.81},{"s":"sim real","t":1.15,"v":8.15},{"s":"sim real","t":1.175,"v":7.79},{"s":"sim real","t":1.2,"v":8.13},{"s":"sim real","t":1.225,"v":7.82},{"s":"sim real","t":1.25,"v":8.12},{"s":"sim real","t":1.275,"v":7.8},{"s":"sim real","t":1.3,"v":8.14},{"s":"sim real","t":1.325,"v":7.78},{"s":"sim real","t":1.35,"v":8.11},{"s":"sim real","t":1.375,"v":7.81},{"s":"sim real","t":1.4,"v":8.15},{"s":"sim real","t":1.425,"v":7.79},{"s":"sim real","t":1.45,"v":8.13},{"s":"sim real","t":1.475,"v":7.82},{"s":"sim real","t":1.5,"v":8.12},{"s":"sim real","t":1.525,"v":7.8},{"s":"sim real","t":1.55,"v":8.14},{"s":"sim real","t":1.575,"v":7.78},{"s":"sim real","t":1.6,"v":8.11},{"s":"sim real","t":1.625,"v":7.81},{"s":"sim real","t":1.65,"v":8.15},{"s":"sim real","t":1.675,"v":7.79},{"s":"sim real","t":1.7,"v":8.13},{"s":"sim real","t":1.725,"v":7.82},{"s":"sim real","t":1.75,"v":8.12},{"s":"sim real","t":1.775,"v":7.8},{"s":"sim real","t":1.8,"v":8.14},{"s":"sim real","t":1.825,"v":7.78},{"s":"sim real","t":1.85,"v":8.11},{"s":"sim real","t":1.875,"v":7.81},{"s":"sim real","t":1.9,"v":8.15},{"s":"sim real","t":1.925,"v":7.79},{"s":"sim real","t":1.95,"v":8.13},{"s":"sim real","t":1.975,"v":7.8},
{"s":"sim real","t":2,"v":8.3},{"s":"sim real","t":2.025,"v":7.72},{"s":"sim real","t":2.05,"v":8.38},{"s":"sim real","t":2.075,"v":7.74},{"s":"sim real","t":2.1,"v":8.3},{"s":"sim real","t":2.125,"v":7.78},{"s":"sim real","t":2.15,"v":8.22},{"s":"sim real","t":2.175,"v":7.8},{"s":"sim real","t":2.2,"v":8.16},{"s":"sim real","t":2.225,"v":7.79},{"s":"sim real","t":2.25,"v":8.15},{"s":"sim real","t":2.275,"v":7.81},{"s":"sim real","t":2.3,"v":8.17},{"s":"sim real","t":2.325,"v":7.8},{"s":"sim real","t":2.35,"v":8.14},{"s":"sim real","t":2.375,"v":7.78},{"s":"sim real","t":2.4,"v":8.16},{"s":"sim real","t":2.425,"v":7.81},{"s":"sim real","t":2.45,"v":8.13},{"s":"sim real","t":2.475,"v":7.79},{"s":"sim real","t":2.5,"v":8.17},{"s":"sim real","t":2.525,"v":7.82},{"s":"sim real","t":2.55,"v":8.15},{"s":"sim real","t":2.575,"v":7.8},{"s":"sim real","t":2.6,"v":8.14},{"s":"sim real","t":2.625,"v":7.78},{"s":"sim real","t":2.65,"v":8.16},{"s":"sim real","t":2.675,"v":7.81},{"s":"sim real","t":2.7,"v":8.13},{"s":"sim real","t":2.725,"v":7.79},{"s":"sim real","t":2.75,"v":8.17},{"s":"sim real","t":2.775,"v":7.82},{"s":"sim real","t":2.8,"v":8.15},{"s":"sim real","t":2.825,"v":7.8},{"s":"sim real","t":2.85,"v":8.14},{"s":"sim real","t":2.875,"v":7.78},{"s":"sim real","t":2.9,"v":8.16},{"s":"sim real","t":2.925,"v":7.81},{"s":"sim real","t":2.95,"v":8.13},{"s":"sim real","t":2.975,"v":7.79},
{"s":"sim real","t":3,"v":8.17},{"s":"sim real","t":3.025,"v":7.82},{"s":"sim real","t":3.05,"v":8.15},{"s":"sim real","t":3.075,"v":7.8},{"s":"sim real","t":3.1,"v":8.14},{"s":"sim real","t":3.125,"v":7.78},{"s":"sim real","t":3.15,"v":8.16},{"s":"sim real","t":3.175,"v":7.81},{"s":"sim real","t":3.2,"v":8.13},{"s":"sim real","t":3.225,"v":7.79},{"s":"sim real","t":3.25,"v":8.17},{"s":"sim real","t":3.275,"v":7.82},{"s":"sim real","t":3.3,"v":8.15},{"s":"sim real","t":3.325,"v":7.8},{"s":"sim real","t":3.35,"v":8.28},{"s":"sim real","t":3.375,"v":7.78},{"s":"sim real","t":3.4,"v":8.16},{"s":"sim real","t":3.425,"v":7.81},{"s":"sim real","t":3.45,"v":8.13},{"s":"sim real","t":3.475,"v":7.79},{"s":"sim real","t":3.5,"v":8.17},{"s":"sim real","t":3.525,"v":7.82},{"s":"sim real","t":3.55,"v":8.15},{"s":"sim real","t":3.575,"v":7.8},{"s":"sim real","t":3.6,"v":8.14},{"s":"sim real","t":3.625,"v":7.78},{"s":"sim real","t":3.65,"v":8.16},{"s":"sim real","t":3.675,"v":7.81},{"s":"sim real","t":3.7,"v":8.13},{"s":"sim real","t":3.725,"v":7.79},{"s":"sim real","t":3.75,"v":8.25},{"s":"sim real","t":3.775,"v":7.82},{"s":"sim real","t":3.8,"v":8.15},{"s":"sim real","t":3.825,"v":7.8},{"s":"sim real","t":3.85,"v":8.14},{"s":"sim real","t":3.875,"v":7.78},{"s":"sim real","t":3.9,"v":8.16},{"s":"sim real","t":3.925,"v":7.81},{"s":"sim real","t":3.95,"v":8.13},{"s":"sim real","t":3.975,"v":7.79},
{"s":"sim real","t":4,"v":8.25},{"s":"sim real","t":4.025,"v":7.72},{"s":"sim real","t":4.05,"v":8.35},{"s":"sim real","t":4.075,"v":7.74},{"s":"sim real","t":4.1,"v":8.32},{"s":"sim real","t":4.125,"v":7.76},{"s":"sim real","t":4.15,"v":8.22},{"s":"sim real","t":4.175,"v":7.8},{"s":"sim real","t":4.2,"v":8.17},{"s":"sim real","t":4.225,"v":7.79},{"s":"sim real","t":4.25,"v":8.15},{"s":"sim real","t":4.275,"v":7.81},{"s":"sim real","t":4.3,"v":8.14},{"s":"sim real","t":4.325,"v":7.8},{"s":"sim real","t":4.35,"v":8.26},{"s":"sim real","t":4.375,"v":7.78},{"s":"sim real","t":4.4,"v":8.16},{"s":"sim real","t":4.425,"v":7.81},{"s":"sim real","t":4.45,"v":8.13},{"s":"sim real","t":4.475,"v":7.79},{"s":"sim real","t":4.5,"v":8.17},{"s":"sim real","t":4.525,"v":7.82},{"s":"sim real","t":4.55,"v":8.15},{"s":"sim real","t":4.575,"v":7.8},{"s":"sim real","t":4.6,"v":8.25},{"s":"sim real","t":4.625,"v":7.78},{"s":"sim real","t":4.65,"v":8.16},{"s":"sim real","t":4.675,"v":7.81},{"s":"sim real","t":4.7,"v":8.13},{"s":"sim real","t":4.725,"v":7.79},{"s":"sim real","t":4.75,"v":8.17},{"s":"sim real","t":4.775,"v":7.82},{"s":"sim real","t":4.8,"v":8.15},{"s":"sim real","t":4.825,"v":7.8},{"s":"sim real","t":4.85,"v":8.14},{"s":"sim real","t":4.875,"v":7.78},{"s":"sim real","t":4.9,"v":8.16},{"s":"sim real","t":4.925,"v":7.81},{"s":"sim real","t":4.95,"v":8.13},{"s":"sim real","t":4.975,"v":7.79},
{"s":"sim real","t":5,"v":8.17},{"s":"sim real","t":5.025,"v":7.82},{"s":"sim real","t":5.05,"v":8.15},{"s":"sim real","t":5.075,"v":7.8},{"s":"sim real","t":5.1,"v":8.26},{"s":"sim real","t":5.125,"v":7.78},{"s":"sim real","t":5.15,"v":8.16},{"s":"sim real","t":5.175,"v":7.81},{"s":"sim real","t":5.2,"v":8.13},{"s":"sim real","t":5.225,"v":7.79},{"s":"sim real","t":5.25,"v":8.17},{"s":"sim real","t":5.275,"v":7.82},{"s":"sim real","t":5.3,"v":8.15},{"s":"sim real","t":5.325,"v":7.8},{"s":"sim real","t":5.35,"v":8.14},{"s":"sim real","t":5.375,"v":7.78},{"s":"sim real","t":5.4,"v":8.16},{"s":"sim real","t":5.425,"v":7.81},{"s":"sim real","t":5.45,"v":8.24},{"s":"sim real","t":5.475,"v":7.79},{"s":"sim real","t":5.5,"v":8.17},{"s":"sim real","t":5.525,"v":7.82},{"s":"sim real","t":5.55,"v":8.15},{"s":"sim real","t":5.575,"v":7.8},{"s":"sim real","t":5.6,"v":8.14},{"s":"sim real","t":5.625,"v":7.78},{"s":"sim real","t":5.65,"v":8.16},{"s":"sim real","t":5.675,"v":7.81},{"s":"sim real","t":5.7,"v":8.13},{"s":"sim real","t":5.725,"v":7.79},{"s":"sim real","t":5.75,"v":8.17},{"s":"sim real","t":5.775,"v":7.82},{"s":"sim real","t":5.8,"v":8.15},{"s":"sim real","t":5.825,"v":7.8},{"s":"sim real","t":5.85,"v":8.26},{"s":"sim real","t":5.875,"v":7.78},{"s":"sim real","t":5.9,"v":8.16},{"s":"sim real","t":5.925,"v":7.81},{"s":"sim real","t":5.95,"v":8.2},{"s":"sim real","t":5.975,"v":7.79},{"s":"sim real","t":6,"v":8.1},
{"s":"exp real","t":0,"v":8},{"s":"exp real","t":0.003,"v":10},{"s":"exp real","t":0.006,"v":7.6},{"s":"exp real","t":0.01,"v":8.6},{"s":"exp real","t":0.02,"v":7.9},{"s":"exp real","t":0.05,"v":8.05},{"s":"exp real","t":0.1,"v":7.97},{"s":"exp real","t":0.2,"v":8.03},{"s":"exp real","t":0.3,"v":7.97},{"s":"exp real","t":0.4,"v":8.04},{"s":"exp real","t":0.5,"v":7.96},{"s":"exp real","t":0.6,"v":8.03},{"s":"exp real","t":0.628,"v":8},{"s":"exp real","t":0.63,"v":8.45},{"s":"exp real","t":0.632,"v":7.6},{"s":"exp real","t":0.634,"v":8},{"s":"exp real","t":0.7,"v":7.97},{"s":"exp real","t":0.8,"v":8.04},{"s":"exp real","t":0.9,"v":7.96},{"s":"exp real","t":1,"v":8.03},{"s":"exp real","t":1.1,"v":7.97},{"s":"exp real","t":1.2,"v":8.04},{"s":"exp real","t":1.268,"v":8},{"s":"exp real","t":1.27,"v":8.35},{"s":"exp real","t":1.272,"v":7.65},{"s":"exp real","t":1.274,"v":8},{"s":"exp real","t":1.3,"v":7.97},{"s":"exp real","t":1.4,"v":8.03},{"s":"exp real","t":1.5,"v":7.96},{"s":"exp real","t":1.6,"v":8.04},{"s":"exp real","t":1.7,"v":7.97},{"s":"exp real","t":1.8,"v":8.03},{"s":"exp real","t":1.868,"v":8},{"s":"exp real","t":1.87,"v":8.3},{"s":"exp real","t":1.872,"v":7.6},{"s":"exp real","t":1.874,"v":8},{"s":"exp real","t":1.9,"v":7.97},{"s":"exp real","t":1.996,"v":8},{"s":"exp real","t":1.998,"v":10},{"s":"exp real","t":2,"v":6.7},{"s":"exp real","t":2.002,"v":8.3},{"s":"exp real","t":2.01,"v":7.9},{"s":"exp real","t":2.03,"v":8.1},{"s":"exp real","t":2.05,"v":7.9},{"s":"exp real","t":2.07,"v":8.4},{"s":"exp real","t":2.072,"v":7.6},{"s":"exp real","t":2.08,"v":8},{"s":"exp real","t":2.1,"v":8.05},{"s":"exp real","t":2.2,"v":7.97},{"s":"exp real","t":2.3,"v":8.04},{"s":"exp real","t":2.4,"v":7.96},{"s":"exp real","t":2.5,"v":8.03},{"s":"exp real","t":2.6,"v":7.97},{"s":"exp real","t":2.7,"v":8.04},{"s":"exp real","t":2.8,"v":7.96},{"s":"exp real","t":2.9,"v":8.03},{"s":"exp real","t":3,"v":7.97},{"s":"exp real","t":3.1,"v":8.04},{"s":"exp real","t":3.2,"v":7.96},{"s":"exp real","t":3.3,"v":8.03},{"s":"exp real","t":3.4,"v":7.97},{"s":"exp real","t":3.5,"v":8.04},{"s":"exp real","t":3.6,"v":7.96},{"s":"exp real","t":3.7,"v":8.03},{"s":"exp real","t":3.718,"v":8},{"s":"exp real","t":3.72,"v":8.3},{"s":"exp real","t":3.722,"v":7.7},{"s":"exp real","t":3.724,"v":8},{"s":"exp real","t":3.8,"v":7.97},{"s":"exp real","t":3.9,"v":8.04},{"s":"exp real","t":3.996,"v":8},{"s":"exp real","t":3.998,"v":9.5},{"s":"exp real","t":4,"v":6.2},{"s":"exp real","t":4.002,"v":8.2},{"s":"exp real","t":4.02,"v":7.8},{"s":"exp real","t":4.04,"v":8.3},{"s":"exp real","t":4.06,"v":7.7},{"s":"exp real","t":4.08,"v":8.4},{"s":"exp real","t":4.082,"v":7.6},{"s":"exp real","t":4.1,"v":8.05},{"s":"exp real","t":4.2,"v":7.97},{"s":"exp real","t":4.298,"v":8},{"s":"exp real","t":4.3,"v":7.3},{"s":"exp real","t":4.302,"v":8.2},{"s":"exp real","t":4.31,"v":8},{"s":"exp real","t":4.4,"v":8.03},{"s":"exp real","t":4.5,"v":7.96},{"s":"exp real","t":4.6,"v":8.04},{"s":"exp real","t":4.7,"v":7.97},{"s":"exp real","t":4.8,"v":8.03},{"s":"exp real","t":4.868,"v":8},{"s":"exp real","t":4.87,"v":8.3},{"s":"exp real","t":4.872,"v":7.7},{"s":"exp real","t":4.874,"v":8},{"s":"exp real","t":4.9,"v":7.96},{"s":"exp real","t":5,"v":8.04},{"s":"exp real","t":5.1,"v":7.97},{"s":"exp real","t":5.2,"v":8.03},{"s":"exp real","t":5.3,"v":7.96},{"s":"exp real","t":5.4,"v":8.04},{"s":"exp real","t":5.468,"v":8},{"s":"exp real","t":5.47,"v":8.3},{"s":"exp real","t":5.472,"v":7.7},{"s":"exp real","t":5.474,"v":8},{"s":"exp real","t":5.5,"v":7.97},{"s":"exp real","t":5.6,"v":8.03},{"s":"exp real","t":5.7,"v":7.96},{"s":"exp real","t":5.8,"v":8.04},{"s":"exp real","t":5.9,"v":7.97},{"s":"exp real","t":6,"v":8.03},
{"s":"reference","t":0,"v":8},{"s":"reference","t":6,"v":8}
]
},
"vconcat": [
{
 "width": 303, "height": 71,
 "title": {"text": "(a)", "dy": 71},
 "data": {"name": "a"},
 "mark": {"type": "line", "clip": true, "strokeWidth": 0.8},
 "encoding": {
  "x": {"field": "t", "type": "quantitative", "scale": {"domain": [0, 6], "nice": false, "zero": false}, "axis": {"title": null, "labels": false, "values": [0,1,2,3,4,5,6], "tickSize": 0}},
  "y": {"field": "v", "type": "quantitative", "scale": {"domain": [-2.95, 3.05], "nice": false, "zero": false}, "axis": {"title": "Rotor Position (rad)", "values": [-2, 0, 2], "titleX": -27, "titleY": 19, "titleAngle": 270, "titleBaseline": "middle", "titleAlign": "center"}},
  "color": {"field": "s", "type": "nominal", "scale": {"domain": ["reference", "sim real", "exp real"], "range": ["#3cb528", "#4646f0", "#b07a48"]}, "legend": {"orient": "top-right", "title": null}}
 }
},
{
 "width": 303, "height": 72,
 "title": {"text": "(b)", "dy": 63.5},
 "data": {"name": "b"},
 "mark": {"type": "line", "clip": true, "strokeWidth": 0.8},
 "encoding": {
  "x": {"field": "t", "type": "quantitative", "scale": {"domain": [0, 6], "nice": false, "zero": false}, "axis": {"title": null, "labels": false, "values": [0,1,2,3,4,5,6], "tickSize": 0}},
  "y": {"field": "v", "type": "quantitative", "scale": {"domain": [-4.37, 4.53], "nice": false, "zero": false}, "axis": {"title": "Position Error", "values": [-4, -2, 0, 2, 4], "titleX": -27, "titleY": 22.5, "titleAngle": 270, "titleBaseline": "middle", "titleAlign": "center"}},
  "color": {"field": "s", "type": "nominal", "scale": {"domain": ["sim", "exp"], "range": ["#4646f0", "#b07a48"]}, "legend": {"orient": "bottom-right", "title": null}}
 }
},
{
 "width": 303, "height": 68,
 "title": {"text": "(c)", "dy": 69},
 "data": {"name": "c"},
 "mark": {"type": "line", "clip": true, "strokeWidth": 0.8},
 "encoding": {
  "x": {"field": "t", "type": "quantitative", "scale": {"domain": [0, 6], "nice": false, "zero": false}, "axis": {"title": null, "labels": false, "values": [0,1,2,3,4,5,6], "tickSize": 0}},
  "y": {"field": "v", "type": "quantitative", "scale": {"domain": [-0.0111, 0.011], "nice": false, "zero": false}, "axis": {"title": "Position Error", "values": [-0.01, -0.005, -0.002, 0, 0.002, 0.005, 0.01], "labelExpr": "datum.value == 0 ? '0' : replace(format(datum.value, '.3f'), '−', '-')", "titleX": -27, "titleY": 20, "titleAngle": 270, "titleBaseline": "middle", "titleAlign": "center"}},
  "color": {"field": "s", "type": "nominal", "scale": {"domain": ["sim", "exp"], "range": ["#4646f0", "#b07a48"]}, "legend": {"orient": "bottom-right", "title": null}}
 }
},
{
 "width": 303, "height": 59,
 "title": {"text": "(d)", "dy": 63.5},
 "data": {"name": "d"},
 "mark": {"type": "line", "clip": true, "strokeWidth": 0.8},
 "encoding": {
  "x": {"field": "t", "type": "quantitative", "scale": {"domain": [0, 6], "nice": false, "zero": false}, "axis": {"title": null, "labels": false, "values": [0,1,2,3,4,5,6], "tickSize": 0}},
  "y": {"field": "v", "type": "quantitative", "scale": {"domain": [-61, 56], "nice": false, "zero": false}, "axis": {"title": "Rotor Speed (rad/s)", "values": [-50, 0, 50], "titleX": -27, "titleY": 25, "titleAngle": 270, "titleBaseline": "middle", "titleAlign": "center"}},
  "color": {"field": "s", "type": "nominal", "scale": {"domain": ["sim", "exp"], "range": ["#4646f0", "#b07a48"]}, "legend": {"orient": "bottom-right", "title": null}}
 }
},
{
 "width": 303, "height": 80,
 "title": {"text": "(e)", "dy": 74.5},
 "data": {"name": "e"},
 "mark": {"type": "line", "clip": true, "strokeWidth": 0.8},
 "encoding": {
  "x": {"field": "t", "type": "quantitative", "scale": {"domain": [0, 6], "nice": false, "zero": false}, "axis": {"title": null, "labels": false, "values": [0,1,2,3,4,5,6], "tickSize": 0}},
  "y": {"field": "v", "type": "quantitative", "scale": {"domain": [-66, 67], "nice": false, "zero": false}, "axis": {"title": "Te ref. (Nm)", "values": [-60, -40, -20, 0, 20, 40, 60], "titleX": -27, "titleY": 34, "titleAngle": 270, "titleBaseline": "middle", "titleAlign": "center"}},
  "color": {"field": "s", "type": "nominal", "scale": {"domain": ["Te sim", "Te exp", "TL est exp", "TL"], "range": ["#4646f0", "#c8642e", "#111111", "#3cb528"]}, "legend": {"orient": "bottom-right", "title": null}}
 }
},
{
 "width": 303, "height": 65,
 "title": {"text": "(f)", "dy": 58},
 "data": {"name": "f"},
 "mark": {"type": "line", "clip": true, "strokeWidth": 0.8},
 "encoding": {
  "x": {"field": "t", "type": "quantitative", "scale": {"domain": [0, 6], "nice": false, "zero": false}, "axis": {"title": null, "labels": false, "values": [0,1,2,3,4,5,6], "tickSize": 0}},
  "y": {"field": "v", "type": "quantitative", "scale": {"domain": [-29.7, 29.4], "nice": false, "zero": false}, "axis": {"title": "Isq  (A)", "values": [-20, 0, 20], "titleX": -27, "titleY": 27, "titleAngle": 270, "titleBaseline": "middle", "titleAlign": "center"}},
  "color": {"field": "s", "type": "nominal", "scale": {"domain": ["sim", "real"], "range": ["#4646f0", "#c0925a"]}, "legend": {"orient": "bottom-right", "title": null}}
 }
},
{
 "width": 303, "height": 73,
 "title": {"text": "(g)", "dy": 63},
 "data": {"name": "g"},
 "mark": {"type": "line", "clip": true, "strokeWidth": 0.8},
 "encoding": {
  "x": {"field": "t", "type": "quantitative", "scale": {"domain": [0, 6], "nice": false, "zero": false}, "axis": {"title": "Time (s)", "values": [0,1,2,3,4,5,6], "tickSize": 0, "labelPadding": 3, "titlePadding": 2}},
  "y": {"field": "v", "type": "quantitative", "scale": {"domain": [6, 10], "nice": false, "zero": false}, "axis": {"title": "Isd  (A)", "values": [6, 7, 8, 9, 10], "titleX": -27, "titleY": 19, "titleAngle": 270, "titleBaseline": "middle", "titleAlign": "center"}},
  "color": {"field": "s", "type": "nominal", "scale": {"domain": ["sim real", "exp real", "reference"], "range": ["#3030f0", "#b8662a", "#3cb528"]}, "legend": {"orient": "bottom-right", "title": null}}
 }
}
]
}
